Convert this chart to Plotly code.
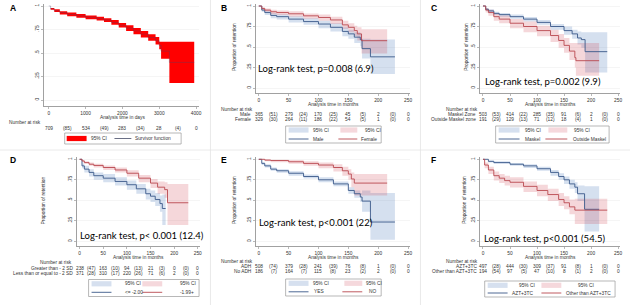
import plotly.graph_objects as go

W, H = 633, 305

# ---------------- DATA ----------------
# Panel A (analysis time in days)
a_time = [0, 50, 150, 300, 500, 750, 1000, 1300, 1500, 1700, 1900, 2100, 2300, 2500, 2700, 2900, 3000, 3050, 3275, 3950]
a_surv = [1, .97, .95, .93, .91, .895, .88, .865, .85, .825, .795, .765, .735, .70, .665, .63, .58, .52, .40, .40]
a_lo = [1, .96, .935, .91, .89, .875, .86, .845, .83, .80, .77, .735, .70, .665, .63, .59, .54, .44, .18, .18]
a_hi = [1, .98, .965, .945, .93, .915, .90, .885, .87, .85, .82, .795, .765, .735, .70, .67, .62, .62, .62, .62]
a_risk = [709, 534, 283, 28, 0]
a_cens = [85, 49, 34, 4]

# Panel B (sex)
b_male_time = [0, 5, 10, 20, 30, 50, 75, 100, 120, 140, 150, 160, 170, 173, 187, 228]
b_male_surv = [1, .95, .92, .885, .87, .84, .81, .78, .74, .69, .66, .62, .59, .48, .38, .38]
b_male_lo = [1, .93, .89, .85, .835, .80, .77, .73, .69, .63, .60, .55, .51, .36, .17, .17]
b_male_hi = [1, .97, .945, .915, .90, .875, .85, .82, .79, .74, .71, .68, .66, .60, .59, .59]
b_fem_time = [0, 5, 10, 20, 30, 50, 75, 100, 120, 140, 150, 160, 165, 172, 215]
b_fem_surv = [1, .97, .95, .93, .92, .905, .88, .86, .83, .77, .74, .70, .66, .577, .577]
b_fem_lo = [1, .95, .93, .90, .89, .87, .845, .82, .78, .72, .68, .63, .58, .42, .42]
b_fem_hi = [1, .985, .97, .955, .945, .935, .91, .895, .87, .82, .79, .76, .74, .715, .715]
b_male_risk = [365, 279, 170, 45, 2, 0]
b_male_cens = [51, 24, 25, 5, 0]
b_fem_risk = [329, 264, 186, 54, 1, 0]
b_fem_cens = [30, 11, 22, 5, 0]

# Panel C (Maskel zone)
c_in_time = [0, 5, 10, 20, 30, 50, 75, 100, 125, 150, 165, 175, 182, 189, 230]
c_in_surv = [1, .96, .94, .91, .895, .87, .84, .80, .75, .70, .66, .61, .59, .443, .443]
c_in_lo = [1, .945, .92, .89, .87, .845, .81, .77, .71, .65, .60, .53, .49, .19, .19]
c_in_hi = [1, .975, .96, .93, .915, .895, .865, .83, .78, .75, .71, .69, .68, .68, .68]
c_out_time = [0, 5, 10, 20, 30, 50, 75, 100, 125, 140, 150, 160, 170, 172, 215]
c_out_surv = [1, .95, .92, .87, .84, .79, .75, .70, .64, .58, .52, .45, .37, .333, .333]
c_out_lo = [1, .92, .88, .82, .79, .73, .68, .63, .56, .49, .43, .34, .25, .15, .15]
c_out_hi = [1, .975, .955, .91, .885, .84, .81, .76, .71, .66, .61, .55, .55, .55, .55]
c_in_risk = [503, 414, 285, 91, 2, 0]
c_in_cens = [53, 22, 35, 6, 0]
c_out_risk = [191, 129, 71, 18, 1, 0]
c_out_cens = [29, 13, 12, 4, 0]

# Panel D (SD groups)
d_low_time = [0, 5, 10, 20, 30, 50, 75, 100, 120, 140, 150, 160, 170, 175, 182]
d_low_surv = [1, .92, .88, .84, .80, .77, .73, .69, .64, .58, .55, .51, .46, .40, .40]
d_low_lo = [1, .89, .84, .79, .75, .72, .68, .63, .58, .51, .48, .43, .36, .20, .20]
d_low_hi = [1, .95, .92, .88, .84, .82, .78, .74, .70, .64, .62, .59, .56, .57, .57]
d_high_time = [0, 5, 10, 20, 30, 50, 75, 100, 125, 150, 165, 180, 186, 230]
d_high_surv = [1, .98, .96, .94, .925, .90, .87, .83, .77, .71, .66, .63, .47, .47]
d_high_lo = [1, .965, .945, .92, .90, .87, .84, .79, .72, .65, .58, .53, .20, .20]
d_high_hi = [1, .99, .975, .96, .945, .925, .90, .865, .81, .76, .73, .72, .70, .70]
d_gt_risk = [238, 163, 94, 21, 0, 0]
d_gt_cens = [47, 10, 13, 3, 0]
d_le_risk = [371, 310, 220, 71, 2, 0]
d_le_cens = [28, 17, 26, 6, 0]

# Panel E (ADH)
e_yes_time = [0, 5, 10, 20, 30, 50, 75, 100, 125, 150, 160, 170, 173, 187, 228]
e_yes_surv = [1, .95, .92, .88, .86, .83, .79, .75, .70, .62, .58, .54, .49, .235, .235]
e_yes_lo = [1, .93, .90, .86, .835, .80, .765, .72, .67, .58, .53, .48, .36, .02, .02]
e_yes_hi = [1, .965, .94, .90, .88, .855, .815, .78, .73, .66, .62, .59, .62, .59, .59]
e_no_time = [0, 10, 20, 50, 75, 100, 125, 140, 150, 155, 160, 215]
e_no_surv = [1, .99, .985, .97, .95, .93, .90, .86, .82, .76, .71, .71]
e_no_lo = [1, .975, .965, .945, .92, .89, .85, .80, .75, .66, .56, .56]
e_no_hi = [1, 1, .995, .99, .975, .96, .94, .91, .88, .84, .82, .82]
e_adh_risk = [508, 379, 241, 76, 1, 0]
e_adh_cens = [74, 28, 39, 8, 0]
e_noadh_risk = [186, 164, 115, 23, 2, 0]
e_noadh_cens = [7, 7, 8, 2, 0]

# Panel F (regimen)
f_azt_time = [0, 10, 20, 50, 75, 100, 125, 140, 150, 160, 170, 175, 188, 215]
f_azt_surv = [1, .975, .96, .94, .92, .885, .84, .79, .75, .70, .66, .58, .39, .39]
f_azt_lo = [1, .96, .945, .92, .895, .86, .80, .75, .70, .64, .59, .49, .12, .12]
f_azt_hi = [1, .985, .975, .955, .94, .91, .87, .83, .79, .75, .72, .68, .67, .67]
f_oth_time = [0, 3, 10, 20, 30, 40, 50, 75, 100, 120, 140, 150, 160, 170, 230]
f_oth_surv = [1, .93, .87, .80, .77, .74, .72, .67, .62, .57, .51, .47, .42, .38, .38]
f_oth_lo = [1, .89, .82, .74, .71, .68, .655, .60, .55, .49, .43, .39, .33, .21, .21]
f_oth_hi = [1, .96, .91, .85, .82, .80, .78, .73, .69, .64, .59, .55, .51, .52, .52]
f_azt_risk = [497, 444, 309, 91, 1, 0]
f_azt_cens = [28, 30, 37, 8, 0]
f_oth_risk = [194, 97, 47, 8, 2, 0]
f_oth_cens = [54, 5, 10, 1, 0]

months_ticks = [0, 50, 100, 150, 200, 250]
days_ticks = [0, 1000, 2000, 3000, 4000]
y_ticks = [0, 0.25, 0.5, 0.75, 1]
y_ticktext = ["0", ".25", ".5", ".75", "1"]

# ---------------- STYLE ----------------
BLUE_LINE = "#3a5889"
RED_LINE = "#b9474f"
BLUE_FILL = "rgba(31,90,170,0.19)"
RED_FILL = "rgba(200,40,60,0.19)"
TXT = "#333333"
SMALL = dict(family="Liberation Sans, Arial", size=4.8, color=TXT)


def fx(p):
    return p / W


def fy(p):
    return 1 - p / H


fig = go.Figure()
layout = {}
annotations = []
shapes = []


def ax_names(n):
    return ("x" if n == 1 else f"x{n}", "y" if n == 1 else f"y{n}",
            "xaxis" if n == 1 else f"xaxis{n}", "yaxis" if n == 1 else f"yaxis{n}")


def setup_axes(n, xl, xr, x0p, x1p, xmax, yt, yb, y1p, y0p, xticks):
    xr_, yr_, xa, ya = ax_names(n)
    sx = (x1p - x0p) / xmax
    sy = (y0p - y1p)
    layout[xa] = dict(domain=[fx(xl), fx(xr)], range=[(xl - x0p) / sx, (xr - x0p) / sx],
                      anchor=yr_, tickmode="array", tickvals=xticks,
                      ticktext=[str(v) for v in xticks], showgrid=False, zeroline=False,
                      showline=True, linecolor="#8a8a8a", linewidth=0.8,
                      ticks="outside", ticklen=2, tickcolor="#8a8a8a", tickwidth=0.6,
                      tickfont=SMALL, fixedrange=True)
    layout[ya] = dict(domain=[fy(yb), fy(yt)], range=[-(yb - y0p) / sy, 1 + (y1p - yt) / sy],
                      anchor=xr_, tickmode="array", tickvals=y_ticks, ticktext=y_ticktext,
                      tickangle=-90, showgrid=True, gridcolor="#ebebeb", gridwidth=0.5,
                      zeroline=False, showline=True, linecolor="#8a8a8a", linewidth=0.8,
                      ticks="outside", ticklen=2, tickcolor="#8a8a8a", tickwidth=0.6,
                      tickfont=SMALL, fixedrange=True)


def add_band(n, t, lo, hi, color):
    xr_, yr_, _, _ = ax_names(n)
    fig.add_trace(go.Scatter(x=t, y=lo, mode="lines", line=dict(width=0, shape="hv"),
                             xaxis=xr_, yaxis=yr_, showlegend=False, hoverinfo="skip"))
    fig.add_trace(go.Scatter(x=t, y=hi, mode="lines", line=dict(width=0, shape="hv"),
                             fill="tonexty", fillcolor=color,
                             xaxis=xr_, yaxis=yr_, showlegend=False, hoverinfo="skip"))


def add_curve(n, t, s, color, width=0.9):
    xr_, yr_, _, _ = ax_names(n)
    fig.add_trace(go.Scatter(x=t, y=s, mode="lines", line=dict(width=width, color=color, shape="hv"),
                             xaxis=xr_, yaxis=yr_, showlegend=False, hoverinfo="skip"))


def text(x, y, s, anchor="left", font=None, angle=0):
    annotations.append(dict(x=fx(x), y=fy(y), xref="paper", yref="paper", text=s, showarrow=False,
                            xanchor=anchor, yanchor="middle", font=font or SMALL, textangle=angle,
                            borderpad=0))


def risk_row(n, y, step, risk, cens):
    xr_, _, _, _ = ax_names(n)
    for i, v in enumerate(risk):
        annotations.append(dict(x=i * step, y=fy(y), xref=xr_, yref="paper", text=str(v),
                                showarrow=False, xanchor="center", yanchor="middle", font=SMALL,
                                borderpad=0))
    for i, v in enumerate(cens):
        annotations.append(dict(x=i * step + step / 2, y=fy(y), xref=xr_, yref="paper",
                                text=f"({v})", showarrow=False, xanchor="center",
                                yanchor="middle", font=SMALL, borderpad=0))


def rect(x0, y0, x1, y1, fill, line="rgba(0,0,0,0)", lw=0):
    shapes.append(dict(type="rect", xref="paper", yref="paper", x0=fx(x0), x1=fx(x1),
                       y0=fy(y1), y1=fy(y0), fillcolor=fill, line=dict(color=line, width=lw), layer="above"))


def hline(x0, x1, y, color, lw=0.9):
    shapes.append(dict(type="line", xref="paper", yref="paper", x0=fx(x0), x1=fx(x1),
                       y0=fy(y), y1=fy(y), line=dict(color=color, width=lw), layer="above"))


def legend2(box, r1, r2, items):
    rect(box[0], box[1], box[2], box[3], "white", "#9a9a9a", 0.7)
    for it in items:
        if it[0] == "rect":
            _, x0, x1, row, col = it
            yc = r1 if row == 1 else r2
            rect(x0, yc - 2.6, x1, yc + 2.6, col)
        elif it[0] == "line":
            _, x0, x1, row, col = it
            yc = r1 if row == 1 else r2
            hline(x0, x1, yc, col)
        else:
            _, x, row, label = it
            yc = r1 if row == 1 else r2
            text(x, yc, label)


LETTER = dict(family="Liberation Sans, Arial", size=8.5, color="black")
LOGRANK = dict(family="Lato, Open Sans", size=9.5, color="black")
BLUE_SW = "#d6e0ef"
RED_SW = "#f5d8dc"

# ---------------- PANEL A ----------------
setup_axes(1, 44, 200, 49, 197, 4000, 4, 106, 6, 100, days_ticks)
add_band(1, a_time, a_lo, a_hi, "#ff0000")
add_curve(1, a_time, a_surv, "rgba(70,70,110,0.7)", 0.5)
text(9, 8, "<b>A</b>", font=LETTER)
text(123, 117, "Analysis time in days", anchor="center")
text(42, 122, "Number at risk", anchor="right")
risk_row(1, 128.5, 1000, a_risk, a_cens)
legend2((65, 133, 182, 144), 138.5, 138.5,
        [("rect", 67, 87, 1, "#ff0000"), ("text", 90, 1, "95% CI"),
         ("line", 115, 132, 1, "#5a6078"), ("text", 135, 1, "Survivor function")])

# ---------------- PANEL B ----------------
setup_axes(2, 257, 412, 260, 410, 250, 4, 93, 6, 88, months_ticks)
add_band(2, b_male_time, b_male_lo, b_male_hi, BLUE_FILL)
add_band(2, b_fem_time, b_fem_lo, b_fem_hi, RED_FILL)
add_curve(2, b_male_time, b_male_surv, BLUE_LINE)
add_curve(2, b_fem_time, b_fem_surv, RED_LINE)
text(221, 8, "<b>B</b>", font=LETTER)
text(236, 47, "Proportion of retention", anchor="center", angle=-90)
text(258, 68, "Log-rank test, p=0.008 (6.9)", font=LOGRANK)
text(335, 104, "Analysis time in months", anchor="center")
text(255, 109.5, "Number at risk", anchor="right")
text(253, 114.5, "Male", anchor="right")
text(253, 119.5, "Female", anchor="right")
risk_row(2, 114.5, 50, b_male_risk, b_male_cens)
risk_row(2, 119.5, 50, b_fem_risk, b_fem_cens)
legend2((287, 126, 383, 143), 130, 139,
        [("rect", 290, 310, 1, BLUE_SW), ("text", 313, 1, "95% CI"),
         ("rect", 342, 359, 1, RED_SW), ("text", 366, 1, "95% CI"),
         ("line", 290, 310, 2, BLUE_LINE), ("text", 313, 2, "Male"),
         ("line", 340, 359, 2, RED_LINE), ("text", 362, 2, "Female")])

# ---------------- PANEL C ----------------
setup_axes(3, 482, 623, 485.3, 621, 250, 4, 93, 6, 88, months_ticks)
add_band(3, c_in_time, c_in_lo, c_in_hi, BLUE_FILL)
add_band(3, c_out_time, c_out_lo, c_out_hi, RED_FILL)
add_curve(3, c_in_time, c_in_surv, BLUE_LINE)
add_curve(3, c_out_time, c_out_surv, RED_LINE)
text(432, 8, "<b>C</b>", font=LETTER)
text(469, 47, "Proportion of retention", anchor="center", angle=-90)
text(486, 81, "Log-rank test, p=0.002 (9.9)", font=LOGRANK)
text(553, 104, "Analysis time in months", anchor="center")
text(481, 109.5, "Number at risk", anchor="right")
text(479, 114.3, "Maskel Zone", anchor="right")
text(479, 119.1, "Outside Maskel zone", anchor="right")
risk_row(3, 114.3, 50, c_in_risk, c_in_cens)
risk_row(3, 119.1, 50, c_out_risk, c_out_cens)
legend2((498, 126, 612, 143), 130, 139,
        [("rect", 501, 522, 1, BLUE_SW), ("text", 526, 1, "95% CI"),
         ("rect", 551, 570, 1, RED_SW), ("text", 576, 1, "95% CI"),
         ("line", 501, 522, 2, BLUE_LINE), ("text", 526, 2, "Maskel"),
         ("line", 548, 570, 2, RED_LINE), ("text", 575, 2, "Outside Maskel")])

# ---------------- PANEL D ----------------
setup_axes(4, 77, 201, 80, 198.7, 250, 157, 246, 159.3, 241.3, months_ticks)
add_band(4, d_low_time, d_low_lo, d_low_hi, BLUE_FILL)
add_band(4, d_high_time, d_high_lo, d_high_hi, RED_FILL)
add_curve(4, d_low_time, d_low_surv, BLUE_LINE)
add_curve(4, d_high_time, d_high_surv, RED_LINE)
text(9, 160, "<b>D</b>", font=LETTER)
text(44.6, 200, "Proportion of retention", anchor="center", angle=-90)
text(79, 235, "Log-rank test, p< 0.001 (12.4)", font=LOGRANK)
text(139, 257, "Analysis time in months", anchor="center")
text(73, 262.5, "Number at risk", anchor="right")
text(74, 268.5, "Greater than - 2 SD", anchor="right")
text(74, 273.5, "Less than or equal to - 2 SD", anchor="right")
risk_row(4, 268.5, 50, d_gt_risk, d_gt_cens)
risk_row(4, 273.5, 50, d_le_risk, d_le_cens)
legend2((89, 279.5, 200, 296.5), 283.8, 292.3,
        [("rect", 92, 112, 1, BLUE_SW), ("text", 125, 1, "95% CI"),
         ("rect", 143, 163, 1, RED_SW), ("text", 180, 1, "95% CI"),
         ("line", 92, 112, 2, BLUE_LINE), ("text", 125, 2, "<= -2.00"),
         ("line", 143, 163, 2, RED_LINE), ("text", 180, 2, "-1.99+")])

# ---------------- PANEL E ----------------
setup_axes(5, 257, 412, 260, 410, 250, 157, 246, 159.3, 241.3, months_ticks)
add_band(5, e_yes_time, e_yes_lo, e_yes_hi, BLUE_FILL)
add_band(5, e_no_time, e_no_lo, e_no_hi, RED_FILL)
add_curve(5, e_yes_time, e_yes_surv, BLUE_LINE)
add_curve(5, e_no_time, e_no_surv, RED_LINE)
text(221, 160, "<b>E</b>", font=LETTER)
text(236, 200, "Proportion of retention", anchor="center", angle=-90)
text(259, 222, "Log-rank test, p<0.001 (22)", font=LOGRANK)
text(335, 257, "Analysis time in months", anchor="center")
text(255, 261, "Number at risk", anchor="right")
text(254, 266, "ADH", anchor="right")
text(254, 271, "No ADH", anchor="right")
risk_row(5, 266, 50, e_adh_risk, e_adh_cens)
risk_row(5, 271, 50, e_noadh_risk, e_noadh_cens)
legend2((287, 279, 383, 296), 283.3, 291.8,
        [("rect", 290, 310, 1, BLUE_SW), ("text", 313, 1, "95% CI"),
         ("rect", 346, 364, 1, RED_SW), ("text", 367, 1, "95% CI"),
         ("line", 290, 310, 2, BLUE_LINE), ("text", 314, 2, "YES"),
         ("line", 344, 364, 2, RED_LINE), ("text", 370, 2, "NO")])

# ---------------- PANEL F ----------------
setup_axes(6, 482, 623, 485.3, 621, 250, 157, 246, 159.3, 241.3, months_ticks)
add_band(6, f_azt_time, f_azt_lo, f_azt_hi, BLUE_FILL)
add_band(6, f_oth_time, f_oth_lo, f_oth_hi, RED_FILL)
add_curve(6, f_azt_time, f_azt_surv, BLUE_LINE)
add_curve(6, f_oth_time, f_oth_surv, RED_LINE)
text(432, 160, "<b>F</b>", font=LETTER)
text(467, 200, "Proportion of retention", anchor="center", angle=-90)
text(485, 238, "Log-rank test, p<0.001 (54.5)", font=LOGRANK)
text(553, 257, "Analysis time in months", anchor="center")
text(481, 261.5, "Number at risk", anchor="right")
text(480, 266.5, "AZT+3TC", anchor="right")
text(480, 271.5, "Other than AZT+3TC", anchor="right")
risk_row(6, 266.5, 50, f_azt_risk, f_azt_cens)
risk_row(6, 271.5, 50, f_oth_risk, f_oth_cens)
legend2((487, 281, 618, 297), 285.3, 293,
        [("rect", 490, 510, 1, BLUE_SW), ("text", 520, 1, "95% CI"),
         ("rect", 544, 564, 1, RED_SW), ("text", 580, 1, "95% CI"),
         ("line", 490, 510, 2, BLUE_LINE), ("text", 513, 2, "AZT+3TC"),
         ("line", 544, 564, 2, RED_LINE), ("text", 568, 2, "Other than AZT+3TC")])

# faint panel separators
for xs in (211.5, 422.5):
    shapes.append(dict(type="line", xref="paper", yref="paper", x0=fx(xs), x1=fx(xs), y0=0, y1=1,
                       line=dict(color="#e4e4e4", width=0.8), layer="below"))
shapes.append(dict(type="line", xref="paper", yref="paper", x0=0, x1=1, y0=fy(150), y1=fy(150),
                   line=dict(color="#e4e4e4", width=0.8), layer="below"))

fig.update_layout(width=W, height=H, margin=dict(l=0, r=0, t=0, b=0),
                  paper_bgcolor="white", plot_bgcolor="white", showlegend=False,
                  annotations=annotations, shapes=shapes, **layout)

fig.write_html("out.html", config={"displayModeBar": False, "staticPlot": True},
               post_script="document.body.style.margin='0';document.body.style.overflow='hidden';")
